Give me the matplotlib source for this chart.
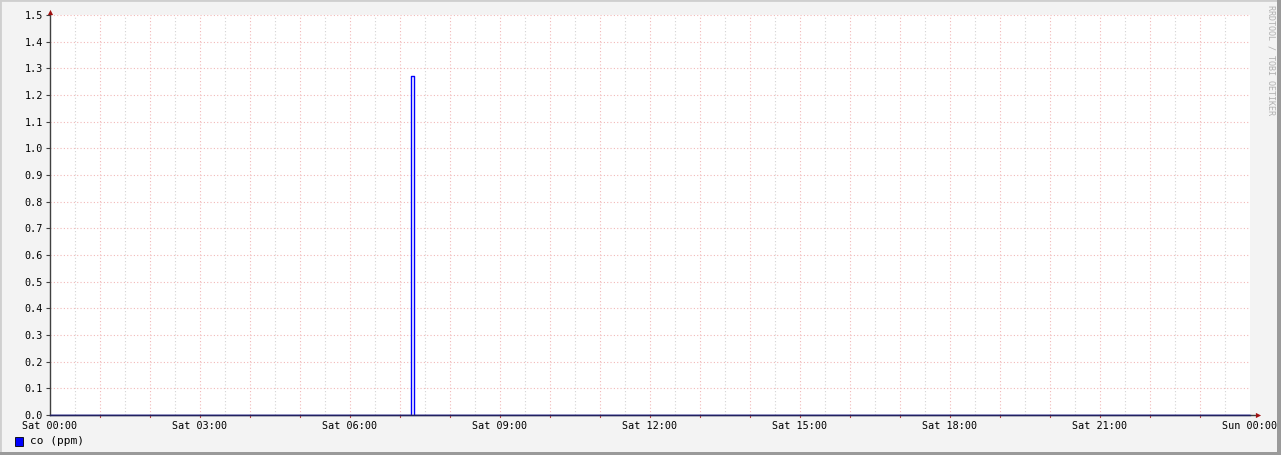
import matplotlib
matplotlib.use("Agg")
import matplotlib.pyplot as plt
from matplotlib.patches import Rectangle

# Data (hours since Sat 00:00, value in ppm), step series
times = [0.0, 7.22, 7.27, 7.285, 24.0]
values = [0.0, 1.27, 0.26, 0.0, 0.0]
tick_hours = [0, 3, 6, 9, 12, 15, 18, 21, 24]
tick_labels = ["Sat 00:00", "Sat 03:00", "Sat 06:00", "Sat 09:00", "Sat 12:00",
               "Sat 15:00", "Sat 18:00", "Sat 21:00", "Sun 00:00"]
y_ticks = [round(0.1 * i, 1) for i in range(16)]
legend_label = "co (ppm)"

W, H = 1281, 455
fig = plt.figure(figsize=(W / 100, H / 100), dpi=100)
fig.patch.set_facecolor("#f3f3f3")
font = "DejaVu Sans Mono"

# frame shading like rrdtool
fig.add_artist(Rectangle((0, 0), 1, 1, transform=fig.transFigure, fill=False,
                         edgecolor="#cfcfcf", lw=2))
fig.add_artist(Rectangle((1277 / W, 0), 4 / W, 1, transform=fig.transFigure,
                         color="#9a9a9a", lw=0))
fig.add_artist(Rectangle((0, 0), 1, 3 / H, transform=fig.transFigure,
                         color="#9a9a9a", lw=0))

x0, x1, y0, y1 = 50, 1250, 15, 415
ax = fig.add_axes([x0 / W, 1 - y1 / H, (x1 - x0) / W, (y1 - y0) / H])
ax.set_facecolor("white")
ax.set_xlim(0, 24)
ax.set_ylim(0, 1.5)
for s in ax.spines.values():
    s.set_visible(False)

# grids
for h in range(1, 48):
    xv = h * 0.5
    if h % 2 == 0:
        ax.axvline(xv, color="#f2b8b8", lw=0.8, ls=(0, (1, 2)), zorder=1)
    else:
        ax.axvline(xv, color="#d4d4d4", lw=0.8, ls=(0, (1, 2)), zorder=1)
for yv in y_ticks[1:]:
    ax.axhline(yv, color="#f2b8b8", lw=0.8, ls=(0, (1, 2)), zorder=1)

ax.step(times, values, where="post", color="#0000ff", lw=1.0, zorder=3)

ax.set_xticks(tick_hours)
ax.set_xticklabels(tick_labels, fontfamily=font, fontsize=7.3)
ax.set_yticks(y_ticks)
ax.set_yticklabels([f"{v:.1f}" for v in y_ticks], fontfamily=font, fontsize=7.3)
ax.tick_params(axis="x", length=0, pad=4)
ax.tick_params(axis="y", length=3, pad=2, color="#404040", direction="out")

# red minor ticks below x-axis at each hour
for h in range(1, 24):
    ax.plot([h, h], [0, -0.008], color="#c04040", lw=0.8, clip_on=False, zorder=4)

# axes lines with red arrow heads
ax.plot([0, 24.1], [0, 0], color="#404040", lw=1, clip_on=False, zorder=4)
ax.plot([0, 0], [0, 1.5], color="#404040", lw=1, clip_on=False, zorder=4)
ax.scatter([24.15], [0], marker=">", s=14, color="#a01010", clip_on=False, zorder=6, lw=0)
ax.scatter([0], [1.51], marker="^", s=14, color="#a01010", clip_on=False, zorder=6, lw=0)
ax.plot([0, 24], [0, 0], color="#202060", lw=1.0, zorder=5, clip_on=False)

# legend
fig.add_artist(Rectangle((15 / W, 1 - 446 / H), 8 / W, 9 / H, transform=fig.transFigure,
                         facecolor="#0000ff", edgecolor="black", lw=0.6))
fig.text(30 / W, 1 - 441 / H, legend_label, fontfamily=font, fontsize=8,
         va="center", ha="left")

# watermark
fig.text(1271 / W, 1 - 60 / H, "RRDTOOL / TOBI OETIKER", fontfamily=font, fontsize=6,
         color="#b0b0b0", rotation=270, va="center", ha="center")

fig.savefig("out.png", dpi=100, facecolor=fig.get_facecolor())
